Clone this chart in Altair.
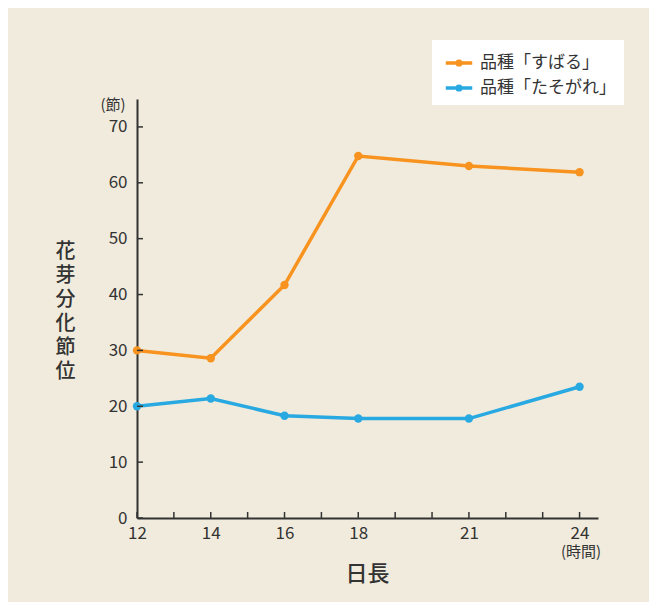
import altair as alt
import pandas as pd

days = [12, 14, 16, 18, 21, 24]
subaru = [30.0, 28.6, 41.7, 64.8, 63.0, 61.9]
tasogare = [20.0, 21.4, 18.3, 17.8, 17.8, 23.5]
series_names = ["品種「すばる」", "品種「たそがれ」"]
series_colors = ["#F7931E", "#29A9E1"]
x_ticks = list(range(12, 25))
x_labels = [12, 14, 16, 18, 21, 24]
y_ticks = [0, 10, 20, 30, 40, 50, 60, 70]

rows = []
for d, a, b in zip(days, subaru, tasogare):
    rows.append({"day": d, "value": a, "series": series_names[0]})
    rows.append({"day": d, "value": b, "series": series_names[1]})
df = pd.DataFrame(rows)

W, H = 461, 419
FONT = "Noto Sans CJK JP"
INK = "#333333"

xs = alt.Scale(domain=[12, 24.5], nice=False, zero=False)
ys = alt.Scale(domain=[0, 75], nice=False)
cs = alt.Scale(domain=series_names, range=series_colors)

x_axis = alt.Axis(values=x_labels, ticks=False, grid=False,
                  domainColor=INK, domainWidth=2, labelColor=INK, labelFontSize=17,
                  labelFont=FONT, labelPadding=7, labelOverlap=False, title="日長", titleFont=FONT,
                  titleFontSize=22, titleFontWeight=500, titleColor=INK,
                  titleX=230, titleY=55, titleBaseline="middle", labelFlush=False)
y_axis = alt.Axis(values=y_ticks, ticks=False, grid=False, domainColor=INK, domainWidth=2,
                  labelColor=INK, labelFontSize=17, labelFont=FONT, labelPadding=10,
                  labelOverlap=False,
                  title=list("花芽分化節位"), titleAngle=0, titleFont=FONT, titleFontSize=20,
                  titleFontWeight=500, titleColor=INK, titleLineHeight=24,
                  titleX=-72, titleY=142, titleAlign="center", titleBaseline="top")

base = alt.Chart(df)

lines = base.mark_line(strokeWidth=3.5).encode(
    x=alt.X("day:Q", scale=xs, axis=x_axis),
    y=alt.Y("value:Q", scale=ys, axis=y_axis),
    color=alt.Color("series:N", scale=cs, sort=series_names,
                    legend=alt.Legend(
                        title=None, orient="none", legendX=295, legendY=-59,
                        fillColor="white", padding=8, labelFont=FONT, labelFontSize=17,
                        labelColor=INK, symbolType="M-1,0H1M-0.14,0a0.14,0.14 0 1,0 0.28,0a0.14,0.14 0 1,0 -0.28,0",
                        symbolSize=700, symbolStrokeWidth=3.5, rowPadding=1,
                        labelOffset=6, symbolOffset=4)),
)
points = base.mark_circle(size=70, opacity=1).encode(
    x=alt.X("day:Q", scale=xs),
    y=alt.Y("value:Q", scale=ys),
    color=alt.Color("series:N", scale=cs, sort=series_names),
)

xt = alt.Chart(pd.DataFrame({"t": x_ticks})).mark_rule(color=INK, strokeWidth=1.5).encode(
    x=alt.X("t:Q", scale=xs), y=alt.value(H), y2=alt.value(H - 6))
yt = alt.Chart(pd.DataFrame({"t": y_ticks})).mark_rule(color=INK, strokeWidth=1.5).encode(
    y=alt.Y("t:Q", scale=ys), x=alt.value(0), x2=alt.value(6))

units = alt.Chart(pd.DataFrame({"u": ["(節)", "(時間)"], "px": [-24, 444], "py": [6, 453]})).mark_text(
    font=FONT, fontSize=15, color=INK, baseline="middle", align="center").encode(
    text="u:N", x=alt.X("px:Q", scale=None), y=alt.Y("py:Q", scale=None))

chart = alt.layer(lines, points, xt, yt, units).properties(
    width=W, height=H, background="#F1EBDD",
    padding={"left": 129, "top": 91, "right": 51, "bottom": 84},
    autosize=alt.AutoSizeParams(type="none"),
).configure_view(stroke=None)

chart.save("out.html", embed_options={"renderer": "svg", "actions": False})
